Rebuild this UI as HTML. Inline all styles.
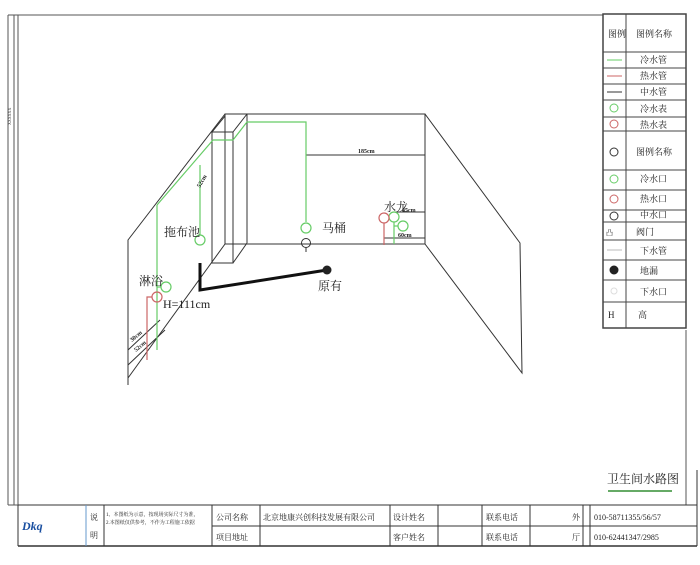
<!DOCTYPE html>
<html><head><meta charset="utf-8"><style>
body{margin:0;background:#fff;width:700px;height:560px;overflow:hidden;font-family:"Liberation Serif","Noto Serif CJK SC",serif}
</style></head><body>
<svg width="700" height="560" viewBox="0 0 700 560" xmlns="http://www.w3.org/2000/svg" font-family="Liberation Serif, Noto Serif CJK SC, serif">
<!-- frame -->
<g stroke="#555" fill="none" stroke-width="1">
<line x1="8" y1="15" x2="8" y2="505"/>
<line x1="14" y1="15" x2="14" y2="505"/>
<line x1="18" y1="15" x2="18" y2="505"/>
<line x1="8" y1="15" x2="603" y2="15"/>
<line x1="686" y1="330" x2="686" y2="505"/>
<line x1="8" y1="505" x2="18" y2="505"/>
</g>
<text x="0" y="0" font-size="4" transform="translate(11,125) rotate(-90)" fill="#333">XXXXXX</text>
<!-- legend -->
<g stroke="#444" fill="none" stroke-width="1">
<rect x="603" y="14" width="83" height="314" stroke-width="1.5"/>
<line x1="626" y1="14" x2="626" y2="328"/>
<line x1="603" y1="52" x2="686" y2="52"/>
<line x1="603" y1="68" x2="686" y2="68"/>
<line x1="603" y1="84" x2="686" y2="84"/>
<line x1="603" y1="100" x2="686" y2="100"/>
<line x1="603" y1="117" x2="686" y2="117"/>
<line x1="603" y1="131" x2="686" y2="131"/>
<line x1="603" y1="170" x2="686" y2="170"/>
<line x1="603" y1="190" x2="686" y2="190"/>
<line x1="603" y1="210" x2="686" y2="210"/>
<line x1="603" y1="222" x2="686" y2="222"/>
<line x1="603" y1="240" x2="686" y2="240"/>
<line x1="603" y1="260" x2="686" y2="260"/>
<line x1="603" y1="280" x2="686" y2="280"/>
<line x1="603" y1="302" x2="686" y2="302"/>
</g>
<g font-size="9" fill="#222">
<text x="608" y="37">图例</text><text x="636" y="37">图例名称</text>
<text x="640" y="63">冷水管</text><text x="640" y="79">热水管</text><text x="640" y="95">中水管</text>
<text x="640" y="112">冷水表</text><text x="640" y="128">热水表</text><text x="636" y="155">图例名称</text>
<text x="640" y="182">冷水口</text><text x="640" y="202">热水口</text><text x="640" y="218">中水口</text>
<text x="636" y="235">阀门</text><text x="640" y="254">下水管</text><text x="640" y="274">地漏</text>
<text x="640" y="295">下水口</text><text x="608" y="318">H</text><text x="638" y="318">高</text>
<text x="606" y="235" font-size="7">凸</text>
</g>
<g fill="none" stroke-width="1">
<line x1="607" y1="60" x2="622" y2="60" stroke="#6c6"/>
<line x1="607" y1="76" x2="622" y2="76" stroke="#c66"/>
<line x1="607" y1="92" x2="622" y2="92" stroke="#333"/>
<circle cx="614" cy="108" r="4" stroke="#6c6"/><circle cx="614" cy="124" r="4" stroke="#c66"/>
<circle cx="614" cy="152" r="4" stroke="#333"/>
<circle cx="614" cy="179" r="4" stroke="#6c6"/><circle cx="614" cy="199" r="4" stroke="#c66"/>
<circle cx="614" cy="216" r="4" stroke="#333"/>
<line x1="607" y1="250" x2="622" y2="250" stroke="#bbb"/>
<circle cx="614" cy="270" r="4" fill="#222" stroke="#222"/>
<circle cx="614" cy="291" r="3" stroke="#ddd"/>
</g>
<!-- room -->
<g stroke="#333" fill="none" stroke-width="1">
<rect x="225" y="114" width="200" height="130"/>
<polyline points="425,114 520,243 522,373 425,244"/>
<polyline points="225,114 128,240 128,385"/>
<line x1="225" y1="244" x2="128" y2="378"/>
<rect x="212" y="132" width="21" height="131"/>
<line x1="233" y1="132" x2="247" y2="114"/>
<line x1="247" y1="114" x2="247" y2="243"/>
<line x1="233" y1="263" x2="247" y2="243"/>
<line x1="212" y1="132" x2="225" y2="116"/>
<line x1="306" y1="155" x2="425" y2="155"/>
<line x1="394" y1="212" x2="425" y2="212"/>
<line x1="384" y1="238" x2="425" y2="238"/>
<line x1="306" y1="247" x2="306" y2="252"/>
<circle cx="306" cy="243" r="4.5"/>
<line x1="128" y1="350" x2="160" y2="320"/>
<line x1="128" y1="365" x2="165" y2="330"/>
</g>
<g stroke="#6c6" fill="none" stroke-width="1.2">
<polyline points="213,140 233,140 247,122 306,122 306,222"/>
<circle cx="306" cy="228" r="5"/>
<line x1="213" y1="140" x2="157" y2="205"/>
<line x1="157" y1="205" x2="157" y2="350"/>
<polyline points="200,165 200,235"/>
<circle cx="200" cy="240" r="5"/>
<line x1="157" y1="287" x2="161" y2="287"/>
<circle cx="166" cy="287" r="5"/>
<circle cx="394" cy="217" r="5"/><line x1="394" y1="222" x2="394" y2="244"/>
<circle cx="403" cy="226" r="5"/><line x1="398" y1="226" x2="394" y2="226"/>
</g>
<g stroke="#c66" fill="none" stroke-width="1.2">
<circle cx="157" cy="297" r="5"/>
<polyline points="152,297 147,297 147,360"/>
<circle cx="384" cy="218" r="5"/><line x1="384" y1="223" x2="384" y2="245"/>
</g>
<polyline points="200,263 200,290 327,270" stroke="#111" stroke-width="3" fill="none"/>
<circle cx="327" cy="270" r="4.5" fill="#222"/>
<g font-size="12" fill="#222">
<text x="164" y="236">拖布池</text>
<text x="322" y="232">马桶</text>
<text x="384" y="211">水龙</text>
<text x="318" y="290">原有</text>
<text x="139" y="285">淋浴</text>
<text x="163" y="308">H=111cm</text>
</g>
<g font-size="6" fill="#222" font-weight="bold">
<text x="358" y="153">185cm</text>
<text x="402" y="212">45cm</text>
<text x="398" y="237">60cm</text>
<text x="200" y="188" transform="rotate(-60 200 188)">52cm</text>
<text x="132" y="342" transform="rotate(-40 132 342)">30cm</text>
<text x="136" y="352" transform="rotate(-40 136 352)">52cm</text>
</g>
<!-- title -->
<text x="607" y="483" font-size="12" fill="#222">卫生间水路图</text>
<line x1="608" y1="491" x2="672" y2="491" stroke="#6a6" stroke-width="2"/>
<g stroke="#333" fill="none" stroke-width="1">
<line x1="18" y1="505" x2="697" y2="505"/>
<line x1="18" y1="546" x2="697" y2="546" stroke-width="1.5"/>
<line x1="18" y1="505" x2="18" y2="546"/>
<line x1="697" y1="470" x2="697" y2="546"/>
<line x1="86" y1="505" x2="86" y2="546" stroke="#69c"/>
<line x1="104" y1="505" x2="104" y2="546"/>
<line x1="212" y1="505" x2="212" y2="546"/>
<line x1="260" y1="505" x2="260" y2="546"/>
<line x1="390" y1="505" x2="390" y2="546"/>
<line x1="438" y1="505" x2="438" y2="546"/>
<line x1="482" y1="505" x2="482" y2="546"/>
<line x1="530" y1="505" x2="530" y2="546"/>
<line x1="583" y1="505" x2="583" y2="546"/>
<line x1="590" y1="505" x2="590" y2="546"/>
<line x1="212" y1="526" x2="697" y2="526"/>
</g>
<text x="22" y="530" font-size="12" font-weight="bold" font-style="italic" fill="#1a4fa0">Dkq</text>
<g font-size="8" fill="#222">
<text x="90" y="520">说</text><text x="90" y="538">明</text>
<text x="106" y="516" font-size="5">1、本图纸为示意，按现场实际尺寸为准，</text>
<text x="106" y="524" font-size="5">2.本图纸仅供参考，不作为工程施工依据</text>
<text x="216" y="520">公司名称</text><text x="216" y="540">项目地址</text>
<text x="263" y="520">北京地康兴创科技发展有限公司</text>
<text x="393" y="520">设计姓名</text><text x="393" y="540">客户姓名</text>
<text x="486" y="520">联系电话</text><text x="486" y="540">联系电话</text>
<text x="572" y="520">外</text><text x="572" y="540">厅</text>
<text x="594" y="520">010-58711355/56/57</text>
<text x="594" y="540">010-62441347/2985</text>
</g>
</svg>
</body></html>
